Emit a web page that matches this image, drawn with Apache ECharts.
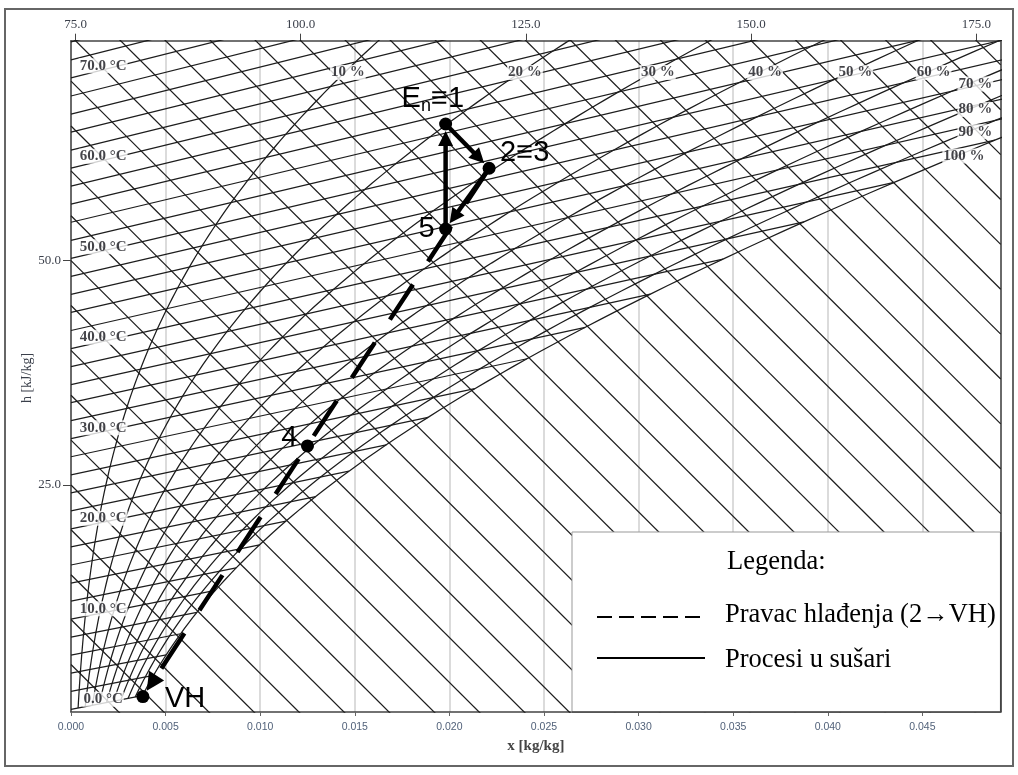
<!DOCTYPE html>
<html><head><meta charset="utf-8">
<script src="https://cdn.jsdelivr.net/npm/echarts@6/dist/echarts.min.js"></script>
<style>html,body{margin:0;padding:0;background:#fff}#c{width:1018px;height:775px}</style>
</head><body><div id="c"></div>
<script>
// ---- axes ----
const xTicks = [0.000, 0.005, 0.010, 0.015, 0.020, 0.025, 0.030, 0.035, 0.040, 0.045];
const hTicksLeft = [25.0, 50.0];
const hTicksTop = [75.0, 100.0, 125.0, 150.0, 175.0];
const xMax = 0.04914;
const yMin = -0.3, yMax = 74.5;
const skewK = 2100;          // skewed ordinate: Y = h - skewK * x
const pressure = 101.325;    // kPa
const yAxisTitle = 'h [kJ/kg]';
const xAxisTitle = 'x [kg/kg]';

// ---- diagram line families ----
const isothermTemps = [0,2,4,6,8,10,12,14,16,18,20,22,24,26,28,30,32,34,36,38,40,42,44,46,48,50,52,54,56,58,60,62,64,66,68,70,72,74];
const tempLabelValues = [0,10,20,30,40,50,60,70];
const rhLevels = [10,20,30,40,50,60,70,80,90,100];
const enthalpyLines = [5,10,15,20,25,30,35,40,45,50,55,60,65,70,75,80,85,90,95,100,105,110,115,120,125,130,135,140,145,150,155,160,165,170,175,180];

// ---- process points (x [kg/kg], h [kJ/kg]) ----
const pointNames = ['E_n≡1', '2≡3', '5', '4', 'VH'];
const pointX = [0.0198, 0.0221, 0.0198, 0.0125, 0.0038];
const pointH = [106.8, 106.7, 95.1, 55.6, 9.4];
const solidSteps = [[2, 0], [0, 1], [1, 2]];
const dashedSteps = [[1, 4]];

const legendTitle = 'Legenda:';
const legendItems = ['Pravac hlađenja (2→VH)', 'Procesi u sušari'];

// ---- psychrometric relations ----
function pSat(t) { return 0.61078 * Math.exp(17.27 * t / (t + 237.3)); }
function xOf(t, phi) { const pv = phi * pSat(t); return 0.622 * pv / (pressure - pv); }
function hOf(t, x) { return 1.005 * t + x * (2501 + 1.86 * t); }
function skewY(h, x) { return h - skewK * x; }

const lineStyle = { color: '#1d1d1d', width: 1.25 };
const series = [];

// isenthalps
enthalpyLines.forEach(h => {
  series.push({ type: 'line', silent: true, symbol: 'none', z: 2, lineStyle,
    data: [[0, skewY(h, 0)], [xMax, skewY(h, xMax)]] });
});
// isotherms (x = 0 up to saturation)
isothermTemps.forEach(t => {
  const xs = xOf(t, 1);
  series.push({ type: 'line', silent: true, symbol: 'none', z: 2, lineStyle,
    data: [[0, skewY(hOf(t, 0), 0)], [xs, skewY(hOf(t, xs), xs)]] });
});
// relative humidity curves
const rhCurves = rhLevels.map(rh => {
  const pts = [];
  for (let i = 0; i <= 200; i++) {
    const t = i * 0.5;
    const phi = rh / 100;
    if (phi * pSat(t) >= pressure * 0.95) break;
    const x = xOf(t, phi);
    const Y = skewY(hOf(t, x), x);
    pts.push([x, Y]);
    if (x > xMax * 1.1 || Y > yMax + 8) break;
  }
  return pts;
});
rhCurves.forEach(pts => {
  series.push({ type: 'line', silent: true, symbol: 'none', z: 2, lineStyle, data: pts });
});

const labelTxt = { fontFamily: 'Liberation Serif', fontWeight: 'bold', fontSize: 15, color: '#15151c',
  backgroundColor: '#fff', padding: [0, 1] };

// labels for isotherms
const tLabX = 0.0017;
series.push({ type: 'scatter', silent: true, symbolSize: 0, z: 5,
  data: tempLabelValues.map(t => [tLabX, skewY(hOf(t, tLabX), tLabX), t]),
  label: Object.assign({ show: true, position: 'inside', offset: [0, -4],
    formatter: p => p.value[2].toFixed(1) + ' °C' }, labelTxt) });

// labels for RH curves: 10-60 % near the top, 70-100 % near the right edge
function crossAt(pts, dim, target) {
  for (let i = 1; i < pts.length; i++) {
    const a = pts[i - 1], b = pts[i];
    if ((a[dim] - target) * (b[dim] - target) <= 0) {
      const f = (target - a[dim]) / (b[dim] - a[dim]);
      return [a[0] + f * (b[0] - a[0]), a[1] + f * (b[1] - a[1])];
    }
  }
  return pts[pts.length - 1];
}
const rhLabelData = rhLevels.map((rh, i) => {
  let p;
  if (rh <= 60) p = crossAt(rhCurves[i], 1, 71.3);
  else if (rh < 100) p = crossAt(rhCurves[i], 0, 0.0478);
  else p = crossAt(rhCurves[i], 0, 0.0472);
  return [p[0], p[1], rh];
});
series.push({ type: 'scatter', silent: true, symbolSize: 0, z: 5, data: rhLabelData,
  label: Object.assign({ show: true, position: 'inside', offset: [0, 3],
    formatter: p => p.value[2] + ' %' }, labelTxt) });

// process lines with arrows
const pointY = pointX.map((x, i) => skewY(pointH[i], x));
const segData = [];
solidSteps.forEach(([a, b]) => segData.push([pointX[a], pointY[a], pointX[b], pointY[b], 0]));
dashedSteps.forEach(([a, b]) => segData.push([pointX[a], pointY[a], pointX[b], pointY[b], 1]));
series.push({ type: 'custom', z: 10, silent: true, data: segData,
  encode: { x: [0, 2], y: [1, 3] },
  renderItem: (params, api) => {
    const p1 = api.coord([api.value(0), api.value(1)]);
    const p2 = api.coord([api.value(2), api.value(3)]);
    const dashed = api.value(4) === 1;
    const dx = p2[0] - p1[0], dy = p2[1] - p1[1];
    const L = Math.hypot(dx, dy), ux = dx / L, uy = dy / L;
    const gap = 7, aLen = dashed ? 18 : 15, aW = dashed ? 9 : 7.5;
    const tip = [p2[0] - ux * gap, p2[1] - uy * gap];
    const base = [tip[0] - ux * aLen, tip[1] - uy * aLen];
    const left = [base[0] - uy * aW, base[1] + ux * aW];
    const right = [base[0] + uy * aW, base[1] - ux * aW];
    return { type: 'group', children: [
      { type: 'line', shape: { x1: p1[0], y1: p1[1], x2: base[0] + ux * 2, y2: base[1] + uy * 2 },
        style: { stroke: '#000', lineWidth: 4.5, lineDash: dashed ? [42, 27.5] : null } },
      { type: 'polygon', shape: { points: [tip, left, right] }, style: { fill: '#000' } }
    ] };
  } });

// process points
const ptLabelCfg = [
  { align: 'left', offset: [-44, -25] },
  { align: 'left', offset: [11, -15] },
  { align: 'right', offset: [-11, 0] },
  { align: 'right', offset: [-10, -8] },
  { align: 'left', offset: [22, 2] }
];
series.push({ type: 'scatter', silent: true, z: 11, symbolSize: 13, itemStyle: { color: '#000', opacity: 1 },
  data: pointX.map((x, i) => ({
    value: [x, pointY[i]], name: pointNames[i],
    label: { show: true, position: 'inside', verticalAlign: 'middle', align: ptLabelCfg[i].align,
      offset: ptLabelCfg[i].offset,
      formatter: i === 0 ? '{a|E}{b|n}{a|≡1}' : pointNames[i],
      fontFamily: 'Liberation Sans', fontSize: 29, color: '#000',
      rich: { a: { fontFamily: 'Liberation Sans', fontSize: 29, lineHeight: 32, color: '#000' },
              b: { fontFamily: 'Liberation Sans', fontSize: 18, lineHeight: 18, verticalAlign: 'bottom', color: '#000' } } }
  })) });

const axisTxt = { fontFamily: 'Liberation Serif', fontSize: 13, color: '#3a3f4a' };
const borderLine = { show: true, onZero: false, lineStyle: { color: '#444', width: 1.5 } };

const option = {
  animation: false,
  backgroundColor: '#fff',
  grid: { left: 71, right: 17.3, top: 40.7, bottom: 63, show: false },
  xAxis: [
    { type: 'value', position: 'bottom', min: 0, max: xMax, interval: 0.005,
      name: xAxisTitle, nameLocation: 'middle', nameGap: 27,
      nameTextStyle: { fontFamily: 'Liberation Serif', fontSize: 15, color: '#444', fontWeight: 'bold' },
      axisLine: borderLine,
      axisTick: { show: true, length: 4, lineStyle: { color: '#666' } },
      axisLabel: { showMaxLabel: false, margin: 10, fontFamily: 'Liberation Sans', fontSize: 10.5, color: '#52627a',
        formatter: v => v.toFixed(3) },
      splitLine: { show: true, lineStyle: { color: '#cfcfcf', width: 1.5 } } },
    { type: 'value', position: 'top', min: yMax, max: yMax + skewK * xMax,
      axisLine: borderLine,
      axisTick: { show: true, length: 7, customValues: hTicksTop, lineStyle: { color: '#444' } },
      axisLabel: Object.assign({ customValues: hTicksTop, margin: 10, formatter: v => v.toFixed(1) }, axisTxt),
      splitLine: { show: false } }
  ],
  yAxis: [
    { type: 'value', position: 'left', min: yMin, max: yMax,
      axisLine: borderLine,
      axisTick: { show: true, length: 8, customValues: hTicksLeft, lineStyle: { color: '#444' } },
      axisLabel: Object.assign({ customValues: hTicksLeft, margin: 10, formatter: v => v.toFixed(1) }, axisTxt),
      splitLine: { show: false } },
    { type: 'value', position: 'right', min: yMin, max: yMax,
      axisLine: borderLine,
      axisTick: { show: false }, axisLabel: { show: false }, splitLine: { show: false } }
  ],
  series,
  graphic: [
    { type: 'rect', z: 100, shape: { x: 5, y: 9, width: 1008, height: 757 }, style: { fill: 'none', stroke: '#666', lineWidth: 2 } },
    { type: 'text', z: 101, x: 27, y: 378, rotation: Math.PI / 2,
      style: { text: yAxisTitle, font: '14px "Liberation Serif"', fill: '#3a3f4a', align: 'center', verticalAlign: 'middle' } },
    { type: 'rect', z: 100, shape: { x: 572, y: 532, width: 428.7, height: 180 }, style: { fill: '#fff', stroke: '#999', lineWidth: 1 } },
    { type: 'line', z: 101, shape: { x1: 1000.7, y1: 532, x2: 1000.7, y2: 712 }, style: { stroke: '#444', lineWidth: 1.5 } },
    { type: 'line', z: 101, shape: { x1: 572, y1: 712, x2: 1000.7, y2: 712 }, style: { stroke: '#444', lineWidth: 1.5 } },
    { type: 'text', z: 101, x: 727, y: 562, style: { text: legendTitle, font: '26.5px "Liberation Serif"', fill: '#000', verticalAlign: 'middle' } },
    { type: 'line', z: 101, shape: { x1: 597, y1: 617, x2: 703, y2: 617 }, style: { stroke: '#000', lineWidth: 2, lineDash: [15, 7] } },
    { type: 'text', z: 101, x: 725, y: 615, style: { text: legendItems[0], font: '26.5px "Liberation Serif"', fill: '#000', verticalAlign: 'middle' } },
    { type: 'line', z: 101, shape: { x1: 597, y1: 658, x2: 705, y2: 658 }, style: { stroke: '#000', lineWidth: 2 } },
    { type: 'text', z: 101, x: 725, y: 660, style: { text: legendItems[1], font: '26.5px "Liberation Serif"', fill: '#000', verticalAlign: 'middle' } }
  ]
};
const chart = echarts.init(document.getElementById('c'), null, { renderer: 'canvas' });
chart.setOption(option);
</script></body></html>
